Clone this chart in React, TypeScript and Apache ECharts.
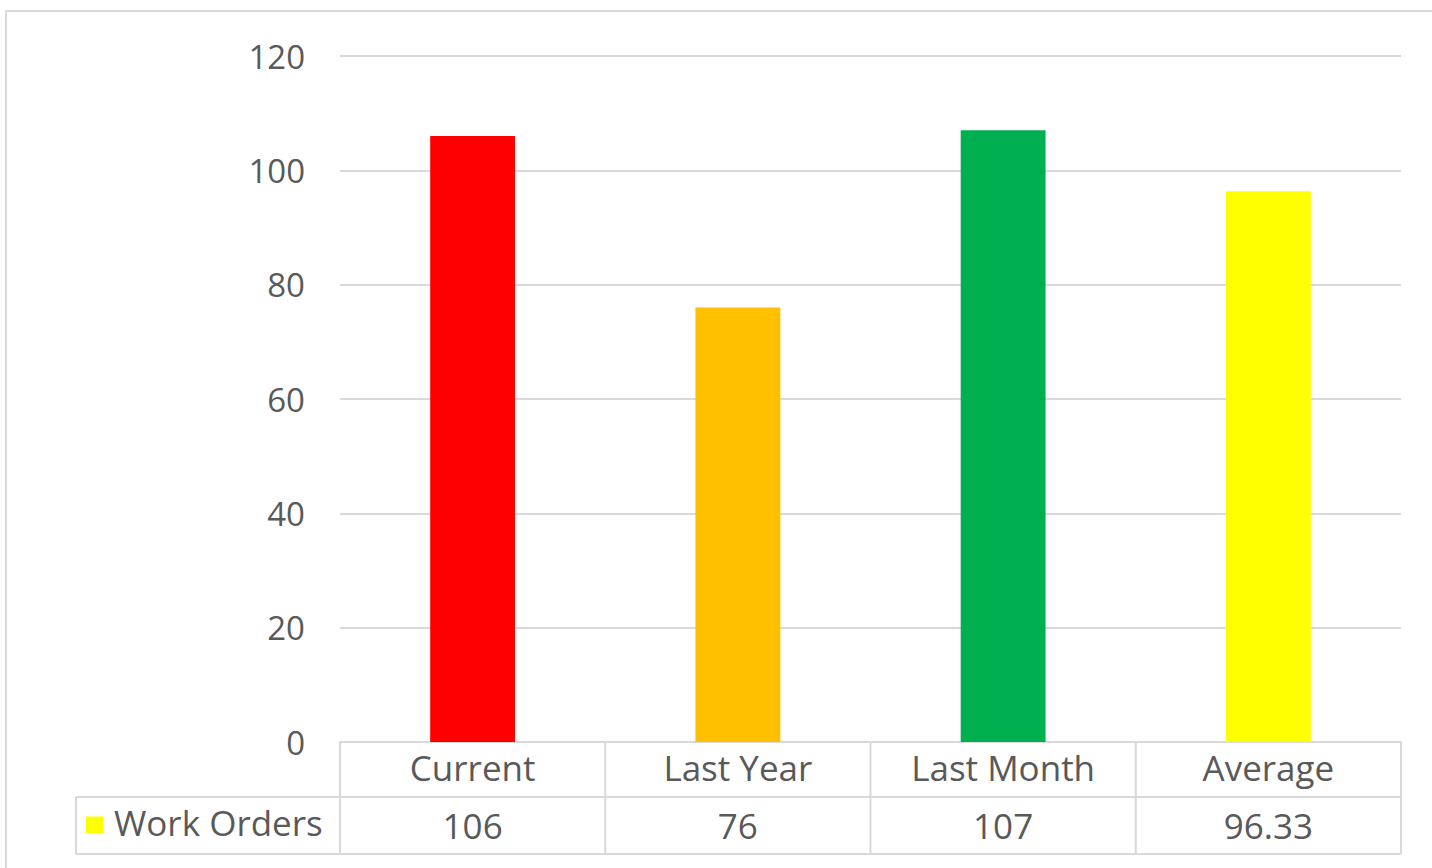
import React, { useEffect, useRef } from "react";
import * as echarts from "echarts";

const categories = ["Current", "Last Year", "Last Month", "Average"];
const workOrders = [106, 76, 107, 96.33];
const barColors = ["#FF0000", "#FFC000", "#00B050", "#FFFF00"];
const seriesName = "Work Orders";
const legendColor = "#FFFF00";
const yTicks = { min: 0, max: 120, interval: 20 };

const FONT = "'Open Sans', 'DejaVu Sans', sans-serif";
const TEXT = "#595959";
const LINE = "#D9D9D9";

export default function App() {
  const ref = useRef<HTMLDivElement>(null);
  useEffect(() => {
    if (!ref.current) return;
    const chart = echarts.init(ref.current, null, { renderer: "svg" });
    const grid = { left: 340, right: 31, top: 56, bottom: 126 };
    chart.setOption({
      animation: false,
      grid,
      xAxis: {
        type: "category",
        data: categories,
        axisLabel: { show: false },
        axisTick: { show: false },
        axisLine: { show: true, lineStyle: { color: LINE, width: 2 } },
      },
      yAxis: {
        type: "value",
        min: yTicks.min,
        max: yTicks.max,
        interval: yTicks.interval,
        axisLine: { show: false },
        axisTick: { show: false },
        axisLabel: { color: TEXT, fontSize: 33, fontFamily: FONT, margin: 35, padding: [0, 0, 5, 0] },
        splitLine: { lineStyle: { color: LINE, width: 2 } },
      },
      series: [
        {
          name: seriesName,
          type: "bar",
          barWidth: "32%",
          data: workOrders.map((v, i) => ({ value: v, itemStyle: { color: barColors[i] } })),
        },
      ],
    });

    // build data table from axis positions
    const W = 1432;
    const H = 868;
    const left = grid.left;
    const right = W - grid.right;
    const y0 = chart.convertToPixel({ yAxisIndex: 0 }, 0) as number;
    const rowH = 55;
    const r1 = y0 + rowH;
    const r2 = r1 + 57;
    const labelLeft = 76;
    const n = categories.length;
    const cw = (right - left) / n;
    const els: any[] = [];
    const ls = { stroke: LINE, lineWidth: 2 };
    const font = `35px ${FONT}`;
    // outer border
    els.push({ type: "rect", shape: { x: 6, y: 11, width: W + 20, height: H + 20 }, style: { fill: "none", stroke: LINE, lineWidth: 2 } });
    els.push({ type: "line", shape: { x1: labelLeft, y1: r1, x2: right, y2: r1 }, style: ls });
    els.push({ type: "line", shape: { x1: labelLeft, y1: r2, x2: right, y2: r2 }, style: ls });
    els.push({ type: "line", shape: { x1: labelLeft, y1: r1, x2: labelLeft, y2: r2 }, style: ls });
    for (let i = 0; i <= n; i++) {
      const x = left + i * cw;
      els.push({ type: "line", shape: { x1: x, y1: y0, x2: x, y2: r2 }, style: ls });
    }
    categories.forEach((c, i) => {
      const cx = chart.convertToPixel({ xAxisIndex: 0 }, c) as number;
      els.push({
        type: "text",
        x: cx,
        y: (y0 + r1) / 2 - 2,
        style: { text: c, fill: TEXT, font, textAlign: "center", textVerticalAlign: "middle" },
      });
      els.push({
        type: "text",
        x: cx,
        y: (r1 + r2) / 2,
        style: { text: String(workOrders[i]), fill: TEXT, font, textAlign: "center", textVerticalAlign: "middle" },
      });
    });
    els.push({ type: "rect", shape: { x: 86, y: (r1 + r2) / 2 - 9, width: 17, height: 17 }, style: { fill: legendColor } });
    els.push({
      type: "text",
      x: 114,
      y: (r1 + r2) / 2 - 3,
      style: { text: seriesName, fill: TEXT, font, textAlign: "left", textVerticalAlign: "middle" },
    });
    chart.setOption({ graphic: { elements: els } });
    return () => chart.dispose();
  }, []);
  return <div ref={ref} style={{ position: "fixed", left: 0, top: 0, width: 1432, height: 868, background: "#fff" }} />;
}
